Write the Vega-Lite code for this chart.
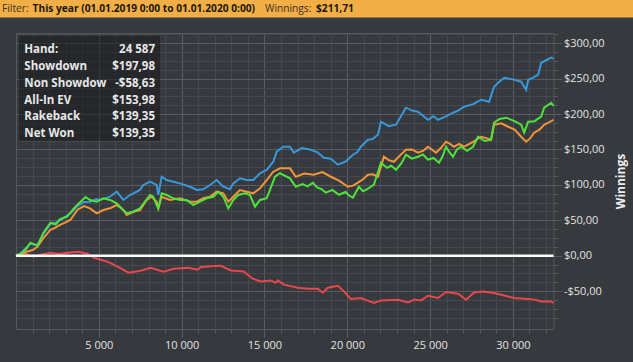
{
  "$schema": "https://vega.github.io/schema/vega-lite/v6.json",
  "width": 537.5,
  "height": 296,
  "autosize": {"type": "none"},
  "padding": {"left": 16, "top": 33, "right": 79.5, "bottom": 33},
  "background": "#36393d",
  "config": {
    "view": {"fill": "#36393d", "stroke": "#56595d", "strokeWidth": 1},
    "font": "Open Sans"
  },
  "resolve": {"axis": {"x": "independent", "y": "independent"}},
  "datasets": {
    "series": [
      {"series": "Non Showdown", "hands": 0, "winnings": 0},
      {"series": "Non Showdown", "hands": 447, "winnings": 4.2},
      {"series": "Non Showdown", "hands": 1052, "winnings": -1.4},
      {"series": "Non Showdown", "hands": 1500, "winnings": 1.5},
      {"series": "Non Showdown", "hands": 2080, "winnings": 4.2},
      {"series": "Non Showdown", "hands": 2600, "winnings": 2.5},
      {"series": "Non Showdown", "hands": 3108, "winnings": 4.2},
      {"series": "Non Showdown", "hands": 3773, "winnings": 5.6},
      {"series": "Non Showdown", "hands": 4317, "winnings": 2.8},
      {"series": "Non Showdown", "hands": 4680, "winnings": -2.8},
      {"series": "Non Showdown", "hands": 5526, "winnings": -8.5},
      {"series": "Non Showdown", "hands": 6130, "winnings": -15.5},
      {"series": "Non Showdown", "hands": 6796, "winnings": -24.0},
      {"series": "Non Showdown", "hands": 7522, "winnings": -21.2},
      {"series": "Non Showdown", "hands": 8126, "winnings": -16.9},
      {"series": "Non Showdown", "hands": 8912, "winnings": -22.6},
      {"series": "Non Showdown", "hands": 9516, "winnings": -18.4},
      {"series": "Non Showdown", "hands": 10363, "winnings": -16.9},
      {"series": "Non Showdown", "hands": 10967, "winnings": -19.8},
      {"series": "Non Showdown", "hands": 11149, "winnings": -16.0},
      {"series": "Non Showdown", "hands": 11800, "winnings": -15.0},
      {"series": "Non Showdown", "hands": 12358, "winnings": -14.1},
      {"series": "Non Showdown", "hands": 12962, "winnings": -20.8},
      {"series": "Non Showdown", "hands": 13748, "winnings": -22.2},
      {"series": "Non Showdown", "hands": 14293, "winnings": -32.5},
      {"series": "Non Showdown", "hands": 14776, "winnings": -36.3},
      {"series": "Non Showdown", "hands": 15381, "winnings": -34.9},
      {"series": "Non Showdown", "hands": 15683, "winnings": -38.1},
      {"series": "Non Showdown", "hands": 15804, "winnings": -34.9},
      {"series": "Non Showdown", "hands": 16167, "winnings": -40.9},
      {"series": "Non Showdown", "hands": 17014, "winnings": -45.2},
      {"series": "Non Showdown", "hands": 17618, "winnings": -46.6},
      {"series": "Non Showdown", "hands": 18223, "winnings": -46.6},
      {"series": "Non Showdown", "hands": 18525, "winnings": -52.2},
      {"series": "Non Showdown", "hands": 18828, "winnings": -45.2},
      {"series": "Non Showdown", "hands": 19433, "winnings": -42.4},
      {"series": "Non Showdown", "hands": 19795, "winnings": -50.4},
      {"series": "Non Showdown", "hands": 20218, "winnings": -61.1},
      {"series": "Non Showdown", "hands": 20823, "winnings": -59.7},
      {"series": "Non Showdown", "hands": 21200, "winnings": -63.0},
      {"series": "Non Showdown", "hands": 21609, "winnings": -66.8},
      {"series": "Non Showdown", "hands": 22032, "winnings": -63.1},
      {"series": "Non Showdown", "hands": 23060, "winnings": -62.1},
      {"series": "Non Showdown", "hands": 23664, "winnings": -65.9},
      {"series": "Non Showdown", "hands": 24050, "winnings": -62.0},
      {"series": "Non Showdown", "hands": 24450, "winnings": -63.1},
      {"series": "Non Showdown", "hands": 24873, "winnings": -56.5},
      {"series": "Non Showdown", "hands": 25478, "winnings": -59.7},
      {"series": "Non Showdown", "hands": 25962, "winnings": -51.3},
      {"series": "Non Showdown", "hands": 26687, "winnings": -53.7},
      {"series": "Non Showdown", "hands": 27171, "winnings": -62.1},
      {"series": "Non Showdown", "hands": 27655, "winnings": -51.8},
      {"series": "Non Showdown", "hands": 28200, "winnings": -50.5},
      {"series": "Non Showdown", "hands": 28864, "winnings": -52.7},
      {"series": "Non Showdown", "hands": 29288, "winnings": -55.1},
      {"series": "Non Showdown", "hands": 30074, "winnings": -59.7},
      {"series": "Non Showdown", "hands": 30921, "winnings": -61.1},
      {"series": "Non Showdown", "hands": 31300, "winnings": -62.0},
      {"series": "Non Showdown", "hands": 31707, "winnings": -64.5},
      {"series": "Non Showdown", "hands": 32311, "winnings": -64.5},
      {"series": "Non Showdown", "hands": 32450, "winnings": -66.8},

      {"series": "Showdown", "hands": 0, "winnings": 0},
      {"series": "Showdown", "hands": 266, "winnings": 3},
      {"series": "Showdown", "hands": 871, "winnings": 17},
      {"series": "Showdown", "hands": 1294, "winnings": 15},
      {"series": "Showdown", "hands": 1657, "winnings": 31},
      {"series": "Showdown", "hands": 2080, "winnings": 45},
      {"series": "Showdown", "hands": 2450, "winnings": 47},
      {"series": "Showdown", "hands": 2866, "winnings": 53},
      {"series": "Showdown", "hands": 3289, "winnings": 60},
      {"series": "Showdown", "hands": 3712, "winnings": 70},
      {"series": "Showdown", "hands": 4100, "winnings": 76},
      {"series": "Showdown", "hands": 4467, "winnings": 76.3},
      {"series": "Showdown", "hands": 4872, "winnings": 80},
      {"series": "Showdown", "hands": 5071, "winnings": 78.7},
      {"series": "Showdown", "hands": 5675, "winnings": 83.3},
      {"series": "Showdown", "hands": 6079, "winnings": 90.4},
      {"series": "Showdown", "hands": 6478, "winnings": 78.7},
      {"series": "Showdown", "hands": 6882, "winnings": 85.7},
      {"series": "Showdown", "hands": 7486, "winnings": 92.8},
      {"series": "Showdown", "hands": 7685, "winnings": 99.9},
      {"series": "Showdown", "hands": 8090, "winnings": 104.5},
      {"series": "Showdown", "hands": 8494, "winnings": 99.9},
      {"series": "Showdown", "hands": 8591, "winnings": 85.7},
      {"series": "Showdown", "hands": 8796, "winnings": 111.6},
      {"series": "Showdown", "hands": 9098, "winnings": 106.9},
      {"series": "Showdown", "hands": 9496, "winnings": 104.5},
      {"series": "Showdown", "hands": 9901, "winnings": 102.2},
      {"series": "Showdown", "hands": 10504, "winnings": 97.4},
      {"series": "Showdown", "hands": 10909, "winnings": 92.8},
      {"series": "Showdown", "hands": 11307, "winnings": 93.8},
      {"series": "Showdown", "hands": 11712, "winnings": 99.9},
      {"series": "Showdown", "hands": 12116, "winnings": 106.9},
      {"series": "Showdown", "hands": 12515, "winnings": 97.4},
      {"series": "Showdown", "hands": 12919, "winnings": 93.8},
      {"series": "Showdown", "hands": 13118, "winnings": 102.2},
      {"series": "Showdown", "hands": 13523, "winnings": 109.3},
      {"series": "Showdown", "hands": 13927, "winnings": 106.9},
      {"series": "Showdown", "hands": 14326, "winnings": 106.9},
      {"series": "Showdown", "hands": 14730, "winnings": 116.4},
      {"series": "Showdown", "hands": 15135, "winnings": 121.0},
      {"series": "Showdown", "hands": 15533, "winnings": 132.7},
      {"series": "Showdown", "hands": 15738, "winnings": 146.9},
      {"series": "Showdown", "hands": 16137, "winnings": 153.9},
      {"series": "Showdown", "hands": 16541, "winnings": 153.9},
      {"series": "Showdown", "hands": 16772, "winnings": 145.4},
      {"series": "Showdown", "hands": 17250, "winnings": 152},
      {"series": "Showdown", "hands": 17800, "winnings": 149.7},
      {"series": "Showdown", "hands": 18200, "winnings": 146},
      {"series": "Showdown", "hands": 18586, "winnings": 138.4},
      {"series": "Showdown", "hands": 19000, "winnings": 137},
      {"series": "Showdown", "hands": 19433, "winnings": 128.5},
      {"series": "Showdown", "hands": 19900, "winnings": 133},
      {"series": "Showdown", "hands": 20339, "winnings": 142.6},
      {"series": "Showdown", "hands": 20600, "winnings": 146},
      {"series": "Showdown", "hands": 20823, "winnings": 153.9},
      {"series": "Showdown", "hands": 21246, "winnings": 163.8},
      {"series": "Showdown", "hands": 21550, "winnings": 165},
      {"series": "Showdown", "hands": 21851, "winnings": 170.9},
      {"series": "Showdown", "hands": 22032, "winnings": 189.2},
      {"series": "Showdown", "hands": 22500, "winnings": 183},
      {"series": "Showdown", "hands": 22939, "winnings": 185.0},
      {"series": "Showdown", "hands": 23543, "winnings": 209.0},
      {"series": "Showdown", "hands": 23900, "winnings": 205},
      {"series": "Showdown", "hands": 24269, "winnings": 203.3},
      {"series": "Showdown", "hands": 24550, "winnings": 198},
      {"series": "Showdown", "hands": 24873, "winnings": 192.0},
      {"series": "Showdown", "hands": 25200, "winnings": 197},
      {"series": "Showdown", "hands": 25478, "winnings": 192.0},
      {"series": "Showdown", "hands": 25900, "winnings": 196},
      {"series": "Showdown", "hands": 26385, "winnings": 201.9},
      {"series": "Showdown", "hands": 26700, "winnings": 205},
      {"series": "Showdown", "hands": 27050, "winnings": 210.4},
      {"series": "Showdown", "hands": 27600, "winnings": 214},
      {"series": "Showdown", "hands": 28078, "winnings": 220.3},
      {"series": "Showdown", "hands": 28562, "winnings": 217.4},
      {"series": "Showdown", "hands": 28864, "winnings": 238.6},
      {"series": "Showdown", "hands": 29150, "winnings": 245},
      {"series": "Showdown", "hands": 29469, "winnings": 251.3},
      {"series": "Showdown", "hands": 30000, "winnings": 249},
      {"series": "Showdown", "hands": 30497, "winnings": 245.7},
      {"series": "Showdown", "hands": 30800, "winnings": 234.4},
      {"series": "Showdown", "hands": 30921, "winnings": 248.5},
      {"series": "Showdown", "hands": 31200, "winnings": 251},
      {"series": "Showdown", "hands": 31525, "winnings": 255.6},
      {"series": "Showdown", "hands": 31707, "winnings": 272.5},
      {"series": "Showdown", "hands": 32000, "winnings": 276},
      {"series": "Showdown", "hands": 32311, "winnings": 279.6},
      {"series": "Showdown", "hands": 32450, "winnings": 278.2},

      {"series": "All-In EV", "hands": 0, "winnings": 0},
      {"series": "All-In EV", "hands": 266, "winnings": 1.4},
      {"series": "All-In EV", "hands": 700, "winnings": 6},
      {"series": "All-In EV", "hands": 1000, "winnings": 8},
      {"series": "All-In EV", "hands": 1294, "winnings": 12.7},
      {"series": "All-In EV", "hands": 1657, "winnings": 25},
      {"series": "All-In EV", "hands": 2080, "winnings": 36.7},
      {"series": "All-In EV", "hands": 2400, "winnings": 40},
      {"series": "All-In EV", "hands": 2684, "winnings": 43.8},
      {"series": "All-In EV", "hands": 3000, "winnings": 47},
      {"series": "All-In EV", "hands": 3289, "winnings": 50.8},
      {"series": "All-In EV", "hands": 3712, "winnings": 65.0},
      {"series": "All-In EV", "hands": 4100, "winnings": 70},
      {"series": "All-In EV", "hands": 4467, "winnings": 66.9},
      {"series": "All-In EV", "hands": 4872, "winnings": 59.9},
      {"series": "All-In EV", "hands": 5270, "winnings": 64.5},
      {"series": "All-In EV", "hands": 5675, "winnings": 66.9},
      {"series": "All-In EV", "hands": 6079, "winnings": 71.6},
      {"series": "All-In EV", "hands": 6478, "winnings": 64.5},
      {"series": "All-In EV", "hands": 6683, "winnings": 57.5},
      {"series": "All-In EV", "hands": 7081, "winnings": 62.1},
      {"series": "All-In EV", "hands": 7486, "winnings": 64.5},
      {"series": "All-In EV", "hands": 7890, "winnings": 78.7},
      {"series": "All-In EV", "hands": 8192, "winnings": 83.3},
      {"series": "All-In EV", "hands": 8494, "winnings": 76.3},
      {"series": "All-In EV", "hands": 8591, "winnings": 66.9},
      {"series": "All-In EV", "hands": 8796, "winnings": 83.3},
      {"series": "All-In EV", "hands": 9297, "winnings": 78.7},
      {"series": "All-In EV", "hands": 9901, "winnings": 81.1},
      {"series": "All-In EV", "hands": 10504, "winnings": 76.3},
      {"series": "All-In EV", "hands": 10909, "winnings": 76.3},
      {"series": "All-In EV", "hands": 11307, "winnings": 81.1},
      {"series": "All-In EV", "hands": 11712, "winnings": 83.3},
      {"series": "All-In EV", "hands": 12116, "winnings": 90.4},
      {"series": "All-In EV", "hands": 12515, "winnings": 88.1},
      {"series": "All-In EV", "hands": 12817, "winnings": 76.3},
      {"series": "All-In EV", "hands": 13118, "winnings": 83.3},
      {"series": "All-In EV", "hands": 13523, "winnings": 92.8},
      {"series": "All-In EV", "hands": 13927, "winnings": 90.4},
      {"series": "All-In EV", "hands": 14326, "winnings": 88.1},
      {"series": "All-In EV", "hands": 14730, "winnings": 95.2},
      {"series": "All-In EV", "hands": 15135, "winnings": 106.9},
      {"series": "All-In EV", "hands": 15533, "winnings": 118.6},
      {"series": "All-In EV", "hands": 15938, "winnings": 123.4},
      {"series": "All-In EV", "hands": 16541, "winnings": 123.4},
      {"series": "All-In EV", "hands": 16893, "winnings": 111.5},
      {"series": "All-In EV", "hands": 17400, "winnings": 116},
      {"series": "All-In EV", "hands": 17981, "winnings": 114.4},
      {"series": "All-In EV", "hands": 18500, "winnings": 118},
      {"series": "All-In EV", "hands": 19009, "winnings": 111.5},
      {"series": "All-In EV", "hands": 19500, "winnings": 106},
      {"series": "All-In EV", "hands": 20037, "winnings": 97.4},
      {"series": "All-In EV", "hands": 20350, "winnings": 99},
      {"series": "All-In EV", "hands": 20641, "winnings": 103.1},
      {"series": "All-In EV", "hands": 20950, "winnings": 108},
      {"series": "All-In EV", "hands": 21246, "winnings": 114.4},
      {"series": "All-In EV", "hands": 21550, "winnings": 115},
      {"series": "All-In EV", "hands": 21851, "winnings": 111.5},
      {"series": "All-In EV", "hands": 22213, "winnings": 139.8},
      {"series": "All-In EV", "hands": 22500, "winnings": 135},
      {"series": "All-In EV", "hands": 22818, "winnings": 132.7},
      {"series": "All-In EV", "hands": 23200, "winnings": 142},
      {"series": "All-In EV", "hands": 23543, "winnings": 149.7},
      {"series": "All-In EV", "hands": 23900, "winnings": 150},
      {"series": "All-In EV", "hands": 24269, "winnings": 145.4},
      {"series": "All-In EV", "hands": 24570, "winnings": 148},
      {"series": "All-In EV", "hands": 24873, "winnings": 153.9},
      {"series": "All-In EV", "hands": 25357, "winnings": 145.4},
      {"series": "All-In EV", "hands": 25650, "winnings": 152},
      {"series": "All-In EV", "hands": 25962, "winnings": 161.0},
      {"series": "All-In EV", "hands": 26200, "winnings": 158},
      {"series": "All-In EV", "hands": 26445, "winnings": 153.9},
      {"series": "All-In EV", "hands": 26750, "winnings": 158},
      {"series": "All-In EV", "hands": 27050, "winnings": 153.9},
      {"series": "All-In EV", "hands": 27550, "winnings": 160},
      {"series": "All-In EV", "hands": 28078, "winnings": 168.0},
      {"series": "All-In EV", "hands": 28400, "winnings": 166},
      {"series": "All-In EV", "hands": 28683, "winnings": 163.8},
      {"series": "All-In EV", "hands": 28864, "winnings": 185.0},
      {"series": "All-In EV", "hands": 29300, "winnings": 187},
      {"series": "All-In EV", "hands": 29711, "winnings": 182.1},
      {"series": "All-In EV", "hands": 30100, "winnings": 178},
      {"series": "All-In EV", "hands": 30497, "winnings": 168.0},
      {"series": "All-In EV", "hands": 30800, "winnings": 161.0},
      {"series": "All-In EV", "hands": 31050, "winnings": 166},
      {"series": "All-In EV", "hands": 31283, "winnings": 173.7},
      {"series": "All-In EV", "hands": 31600, "winnings": 178},
      {"series": "All-In EV", "hands": 31888, "winnings": 185.0},
      {"series": "All-In EV", "hands": 32150, "winnings": 188},
      {"series": "All-In EV", "hands": 32450, "winnings": 192.0},

      {"series": "Net Won", "hands": 0, "winnings": 0},
      {"series": "Net Won", "hands": 266, "winnings": 3},
      {"series": "Net Won", "hands": 570, "winnings": 8},
      {"series": "Net Won", "hands": 871, "winnings": 18.4},
      {"series": "Net Won", "hands": 1294, "winnings": 14},
      {"series": "Net Won", "hands": 1657, "winnings": 32.5},
      {"series": "Net Won", "hands": 2080, "winnings": 46.6},
      {"series": "Net Won", "hands": 2400, "winnings": 44},
      {"series": "Net Won", "hands": 2630, "winnings": 51},
      {"series": "Net Won", "hands": 2866, "winnings": 53.7},
      {"series": "Net Won", "hands": 3080, "winnings": 55},
      {"series": "Net Won", "hands": 3289, "winnings": 60.7},
      {"series": "Net Won", "hands": 3500, "winnings": 67},
      {"series": "Net Won", "hands": 3712, "winnings": 72.0},
      {"series": "Net Won", "hands": 3894, "winnings": 76.2},
      {"series": "Net Won", "hands": 4200, "winnings": 83},
      {"series": "Net Won", "hands": 4467, "winnings": 78.7},
      {"series": "Net Won", "hands": 4872, "winnings": 76.3},
      {"series": "Net Won", "hands": 5270, "winnings": 81.1},
      {"series": "Net Won", "hands": 5675, "winnings": 78.7},
      {"series": "Net Won", "hands": 6079, "winnings": 74.0},
      {"series": "Net Won", "hands": 6478, "winnings": 64.5},
      {"series": "Net Won", "hands": 6683, "winnings": 59.9},
      {"series": "Net Won", "hands": 7081, "winnings": 62.1},
      {"series": "Net Won", "hands": 7486, "winnings": 66.9},
      {"series": "Net Won", "hands": 7788, "winnings": 76.3},
      {"series": "Net Won", "hands": 8090, "winnings": 85.7},
      {"series": "Net Won", "hands": 8289, "winnings": 83.3},
      {"series": "Net Won", "hands": 8494, "winnings": 71.6},
      {"series": "Net Won", "hands": 8591, "winnings": 66.9},
      {"series": "Net Won", "hands": 8796, "winnings": 88.1},
      {"series": "Net Won", "hands": 9098, "winnings": 85.7},
      {"series": "Net Won", "hands": 9496, "winnings": 81.1},
      {"series": "Net Won", "hands": 9901, "winnings": 78.7},
      {"series": "Net Won", "hands": 10305, "winnings": 78.7},
      {"series": "Net Won", "hands": 10704, "winnings": 71.6},
      {"series": "Net Won", "hands": 11108, "winnings": 76.3},
      {"series": "Net Won", "hands": 11513, "winnings": 81.1},
      {"series": "Net Won", "hands": 11911, "winnings": 83.3},
      {"series": "Net Won", "hands": 12213, "winnings": 90.4},
      {"series": "Net Won", "hands": 12515, "winnings": 83.3},
      {"series": "Net Won", "hands": 12817, "winnings": 66.9},
      {"series": "Net Won", "hands": 13118, "winnings": 78.7},
      {"series": "Net Won", "hands": 13420, "winnings": 85.7},
      {"series": "Net Won", "hands": 13825, "winnings": 88.1},
      {"series": "Net Won", "hands": 14127, "winnings": 85.7},
      {"series": "Net Won", "hands": 14429, "winnings": 69.2},
      {"series": "Net Won", "hands": 14730, "winnings": 78.7},
      {"series": "Net Won", "hands": 15135, "winnings": 81.1},
      {"series": "Net Won", "hands": 15334, "winnings": 92.8},
      {"series": "Net Won", "hands": 15636, "winnings": 111.6},
      {"series": "Net Won", "hands": 15938, "winnings": 116.4},
      {"series": "Net Won", "hands": 16541, "winnings": 109.3},
      {"series": "Net Won", "hands": 16893, "winnings": 97.4},
      {"series": "Net Won", "hands": 17300, "winnings": 101},
      {"series": "Net Won", "hands": 17600, "winnings": 98},
      {"series": "Net Won", "hands": 17921, "winnings": 103.1},
      {"series": "Net Won", "hands": 18200, "winnings": 96},
      {"series": "Net Won", "hands": 18450, "winnings": 94},
      {"series": "Net Won", "hands": 18707, "winnings": 89.0},
      {"series": "Net Won", "hands": 19100, "winnings": 93},
      {"series": "Net Won", "hands": 19493, "winnings": 86.1},
      {"series": "Net Won", "hands": 19900, "winnings": 90},
      {"series": "Net Won", "hands": 20100, "winnings": 85},
      {"series": "Net Won", "hands": 20339, "winnings": 81.9},
      {"series": "Net Won", "hands": 20702, "winnings": 97.4},
      {"series": "Net Won", "hands": 20950, "winnings": 91},
      {"series": "Net Won", "hands": 21200, "winnings": 94},
      {"series": "Net Won", "hands": 21400, "winnings": 97},
      {"series": "Net Won", "hands": 21609, "winnings": 100.3},
      {"series": "Net Won", "hands": 22032, "winnings": 131.3},
      {"series": "Net Won", "hands": 22400, "winnings": 124},
      {"series": "Net Won", "hands": 22650, "winnings": 127},
      {"series": "Net Won", "hands": 22939, "winnings": 121.4},
      {"series": "Net Won", "hands": 23250, "winnings": 130},
      {"series": "Net Won", "hands": 23543, "winnings": 142.6},
      {"series": "Net Won", "hands": 23900, "winnings": 137},
      {"series": "Net Won", "hands": 24269, "winnings": 139.8},
      {"series": "Net Won", "hands": 24570, "winnings": 143},
      {"series": "Net Won", "hands": 24873, "winnings": 135.6},
      {"series": "Net Won", "hands": 25200, "winnings": 138},
      {"series": "Net Won", "hands": 25538, "winnings": 131.3},
      {"series": "Net Won", "hands": 25750, "winnings": 140},
      {"series": "Net Won", "hands": 25962, "winnings": 153.9},
      {"series": "Net Won", "hands": 26170, "winnings": 146},
      {"series": "Net Won", "hands": 26385, "winnings": 139.8},
      {"series": "Net Won", "hands": 26620, "winnings": 150},
      {"series": "Net Won", "hands": 26869, "winnings": 153.9},
      {"series": "Net Won", "hands": 27230, "winnings": 148},
      {"series": "Net Won", "hands": 27594, "winnings": 153.9},
      {"series": "Net Won", "hands": 27897, "winnings": 168.0},
      {"series": "Net Won", "hands": 28300, "winnings": 162},
      {"series": "Net Won", "hands": 28683, "winnings": 163.8},
      {"series": "Net Won", "hands": 28864, "winnings": 187.8},
      {"series": "Net Won", "hands": 29200, "winnings": 193},
      {"series": "Net Won", "hands": 29590, "winnings": 194.9},
      {"series": "Net Won", "hands": 30100, "winnings": 190},
      {"series": "Net Won", "hands": 30497, "winnings": 185.0},
      {"series": "Net Won", "hands": 30679, "winnings": 173.7},
      {"series": "Net Won", "hands": 30921, "winnings": 189.2},
      {"series": "Net Won", "hands": 31300, "winnings": 190},
      {"series": "Net Won", "hands": 31707, "winnings": 196.3},
      {"series": "Net Won", "hands": 31888, "winnings": 209.0},
      {"series": "Net Won", "hands": 32311, "winnings": 216.0},
      {"series": "Net Won", "hands": 32450, "winnings": 211.7}
    ],
    "stats": [
      {"label": "Hand:", "value": "24 587"},
      {"label": "Showdown", "value": "$197,98"},
      {"label": "Non Showdown", "value": "-$58,63"},
      {"label": "All-In EV", "value": "$153,98"},
      {"label": "Rakeback", "value": "$139,35"},
      {"label": "Net Won", "value": "$139,35"}
    ]
  },
  "layer": [
    {
      "data": {"name": "series"},
      "mark": {"type": "line", "strokeWidth": 2, "interpolate": "linear"},
      "encoding": {
        "x": {
          "field": "hands", "type": "quantitative",
          "scale": {"domain": [0, 32450], "nice": false, "zero": false},
          "axis": {
            "orient": "bottom", "title": null,
            "values": [1000,2000,3000,4000,5000,6000,7000,8000,9000,10000,11000,12000,13000,14000,15000,16000,17000,18000,19000,20000,21000,22000,23000,24000,25000,26000,27000,28000,29000,30000,31000,32000],
            "labelExpr": "datum.value % 5000 === 0 ? replace(format(datum.value, ','), ',', ' ') : ''",
            "labelOverlap": false,
            "labelFontSize": 11, "labelColor": "#e2e2e2", "labelPadding": 2,
            "domain": false,
            "tickColor": "#5a5d61",
            "tickSize": {"condition": {"test": "datum.value % 5000 === 0", "value": 8}, "value": 4},
            "grid": true,
            "gridColor": {"condition": {"test": "datum.value % 5000 === 0", "value": "#595c60"}, "value": "#45484c"},
            "gridWidth": 1
          }
        },
        "y": {
          "field": "winnings", "type": "quantitative",
          "scale": {"domain": [-103.5, 314.5], "nice": false, "zero": false},
          "axis": {
            "orient": "right", "title": "Winnings",
            "values": [-87.5,-75,-62.5,-50,-37.5,-25,-12.5,0,12.5,25,37.5,50,62.5,75,87.5,100,112.5,125,137.5,150,162.5,175,187.5,200,212.5,225,237.5,250,262.5,275,287.5,300,312.5],
            "labelExpr": "datum.value % 50 === 0 ? ((datum.value < 0 ? '-' : '') + '$' + replace(format(abs(datum.value), '.2f'), '.', ',')) : ''",
            "labelOverlap": false,
            "labelFontSize": 11, "labelColor": "#e2e2e2", "labelPadding": 2,
            "domain": false,
            "tickColor": "#5a5d61",
            "tickSize": {"condition": {"test": "datum.value % 50 === 0", "value": 8}, "value": 4},
            "grid": true,
            "gridColor": {"condition": {"test": "datum.value % 50 === 0", "value": "#595c60"}, "value": "#45484c"},
            "gridWidth": 1,
            "titleAngle": 270, "titleFontSize": 12, "titleFontWeight": "bold", "titleColor": "#eeeeee",
            "titlePadding": 23
          }
        },
        "color": {
          "field": "series", "type": "nominal", "legend": null,
          "scale": {
            "domain": ["Non Showdown", "Showdown", "All-In EV", "Net Won"],
            "range": ["#e8474c", "#3a97da", "#f3943a", "#4fe23a"]
          }
        }
      }
    },
    {
      "data": {"values": [{}]},
      "mark": {"type": "rule", "color": "#ffffff", "strokeWidth": 2.5},
      "encoding": {"y": {"datum": 0, "type": "quantitative", "axis": null}}
    },
    {
      "data": {"values": [{}]},
      "mark": {"type": "rect", "fill": "#f2af47", "clip": false},
      "encoding": {
        "x": {"datum": -966, "type": "quantitative", "axis": null},
        "x2": {"datum": 37250},
        "y": {"datum": 361.1, "type": "quantitative", "axis": null},
        "y2": {"datum": 336.4}
      }
    },
    {
      "data": {"values": [{"text": "Filter:", "hands": -845}, {"text": "Winnings:", "hands": 15032}]},
      "mark": {"type": "text", "align": "left", "baseline": "middle", "fontSize": 10.2, "color": "#3c3020"},
      "encoding": {
        "x": {"field": "hands", "type": "quantitative", "axis": null},
        "y": {"datum": 347.7, "type": "quantitative", "axis": null},
        "text": {"field": "text"}
      }
    },
    {
      "data": {"values": [{"text": "This year (01.01.2019 0:00 to 01.01.2020 0:00)", "hands": 1000}, {"text": "$211,71", "hands": 18111}]},
      "mark": {"type": "text", "align": "left", "baseline": "middle", "fontSize": 10.2, "fontWeight": "bold", "color": "#1a1610"},
      "encoding": {
        "x": {"field": "hands", "type": "quantitative", "axis": null},
        "y": {"datum": 347.7, "type": "quantitative", "axis": null},
        "text": {"field": "text"}
      }
    },
    {
      "data": {"values": [{}]},
      "mark": {"type": "rect", "fill": "#17191b", "opacity": 0.55},
      "encoding": {
        "x": {"datum": 181, "type": "quantitative", "axis": null},
        "x2": {"datum": 8693},
        "y": {"datum": 310.3, "type": "quantitative", "axis": null},
        "y2": {"datum": 162.4}
      }
    },
    {
      "data": {"name": "stats"},
      "transform": [{"aggregate": [{"op": "values", "field": "label", "as": "rows"}]}, {"calculate": "pluck(datum.rows, 'label')", "as": "labels"}],
      "mark": {"type": "text", "align": "left", "baseline": "top", "fontSize": 11.5, "fontWeight": "bold", "color": "#e8e8e8", "lineHeight": 16.7, "limit": 84, "ellipsis": "\u200b"},
      "encoding": {
        "x": {"datum": 501, "type": "quantitative", "axis": null},
        "y": {"datum": 298.3, "type": "quantitative", "axis": null},
        "text": {"field": "labels"}
      }
    },
    {
      "data": {"name": "stats"},
      "transform": [{"aggregate": [{"op": "values", "field": "value", "as": "rows"}]}, {"calculate": "pluck(datum.rows, 'value')", "as": "vals"}],
      "mark": {"type": "text", "align": "right", "baseline": "top", "fontSize": 11.5, "fontWeight": "bold", "color": "#e8e8e8", "lineHeight": 16.7},
      "encoding": {
        "x": {"datum": 8391, "type": "quantitative", "axis": null},
        "y": {"datum": 298.3, "type": "quantitative", "axis": null},
        "text": {"field": "vals"}
      }
    }
  ]
}
